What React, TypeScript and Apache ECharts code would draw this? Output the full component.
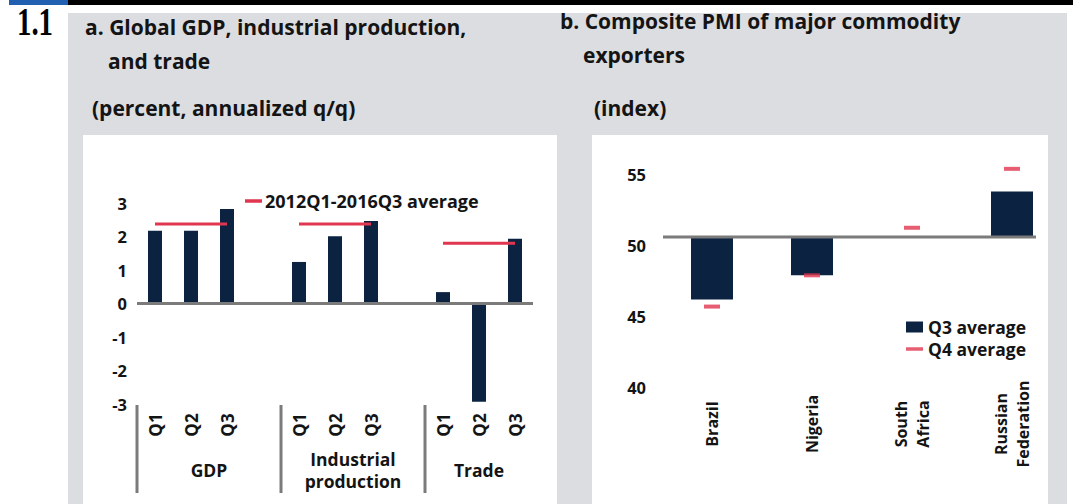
import { useEffect, useRef } from "react";
import * as echarts from "echarts";

// ---------- Panel a data ----------
const quarterCats = ["Q1", "Q2", "Q3", "", "Q1", "Q2", "Q3", "", "Q1", "Q2", "Q3"];
const gdp = [2.17, 2.17, 2.82];
const industrialProduction = [1.24, 2.01, 2.46];
const trade = [0.34, -2.93, 1.93];
const avg2012to2016 = [2.37, 2.37, 1.8]; // GDP, industrial production, trade
const groupNames = ["GDP", "Industrial\nproduction", "Trade"];
const avgName = "2012Q1-2016Q3 average";

// ---------- Panel b data ----------
const countries = ["Brazil", "Nigeria", "South\nAfrica", "Russian\nFederation"];
const q3Average = [45.6, 47.3, 50.0, 53.2];
const q4Average = [45.1, 47.3, 50.65, 54.8];
const pmiBase = 50;

// ---------- styles ----------
const NAVY = "#0b2341";
const RED = "#e1364f";
const GREY_LINE = "#7b7b7b";
const PANEL = "#dcdde0";
const TXT = "#141414";
const FONT = "'Open Sans'";

// layout
const A = { left: 137, top: 203, width: 396, height: 201 };
const B = { left: 662, top: 166, width: 400, height: 213 };
const bMin = -10, bMax = 5;

const barData = [...gdp, null, ...industrialProduction, null, ...trade];
const avgData = [
  ...gdp.map(() => avg2012to2016[0]), null,
  ...industrialProduction.map(() => avg2012to2016[1]), null,
  ...trade.map(() => avg2012to2016[2]),
];
const dashIcon = "path://M0,0H17V3.5H0Z";

const slotW = A.width / quarterCats.length;
const groupStarts = [0, 4, 8];
const groupEnds = [4, 8, 11];
const sepTop = A.top + A.height + 1;
const zeroB = B.top + (bMax / (bMax - bMin)) * B.height;

const titleFont = `bold 21px ${FONT}`;

const graphics: any[] = [
  { type: "rect", z: -10, shape: { x: 9, y: 0, width: 59, height: 5 }, style: { fill: "#2160b0" } },
  { type: "rect", z: -10, shape: { x: 68, y: 0, width: 1005, height: 5 }, style: { fill: "#000" } },
  { type: "rect", z: -10, shape: { x: 68, y: 13, width: 999, height: 491 }, style: { fill: PANEL } },
  { type: "rect", z: -9, shape: { x: 83, y: 135, width: 474, height: 369 }, style: { fill: "#fff" } },
  { type: "rect", z: -9, shape: { x: 592, y: 135, width: 456, height: 369 }, style: { fill: "#fff" } },
  { type: "text", z: 10, x: 17, y: 2, scaleX: 0.72, style: { text: "1.1", fill: "#000", font: "bold 40px 'Liberation Serif'" } },
  { type: "text", z: 10, x: 85, y: 27, style: { text: "a. Global GDP, industrial production,", fill: TXT, font: titleFont, verticalAlign: "middle" } },
  { type: "text", z: 10, x: 108, y: 61, style: { text: "and trade", fill: TXT, font: titleFont, verticalAlign: "middle" } },
  { type: "text", z: 10, x: 92, y: 108, style: { text: "(percent, annualized q/q)", fill: TXT, font: titleFont, verticalAlign: "middle" } },
  { type: "text", z: 10, x: 560, y: 21, style: { text: "b. Composite PMI of major commodity", fill: TXT, font: titleFont, verticalAlign: "middle" } },
  { type: "text", z: 10, x: 583, y: 55, style: { text: "exporters", fill: TXT, font: titleFont, verticalAlign: "middle" } },
  { type: "text", z: 10, x: 594, y: 108, style: { text: "(index)", fill: TXT, font: titleFont, verticalAlign: "middle" } },
  // right panel horizontal axis at 50
  { type: "line", z: 5, shape: { x1: 663, y1: zeroB, x2: 1036, y2: zeroB }, style: { stroke: GREY_LINE, lineWidth: 3 } },
];
groupStarts.forEach((s) => {
  const x = A.left + s * slotW;
  graphics.push({ type: "line", z: 5, shape: { x1: x, y1: sepTop, x2: x, y2: sepTop + 88 }, style: { stroke: GREY_LINE, lineWidth: 3 } });
});
groupNames.forEach((name, i) => {
  const cx = A.left + ((groupStarts[i] + groupEnds[i]) / 2) * slotW;
  graphics.push({
    type: "text", z: 10, x: cx, y: 470,
    style: { text: name, fill: TXT, font: `bold 17.5px ${FONT}`, align: "center", verticalAlign: "middle", lineHeight: 22 },
  });
});

const option: any = {
  animation: false,
  textStyle: { fontFamily: FONT },
  graphic: graphics,
  legend: [
    {
      data: [{ name: avgName, icon: dashIcon }],
      left: 240, top: 187, itemWidth: 17, itemHeight: 12, selectedMode: false,
      textStyle: { fontFamily: FONT, fontWeight: "bold", fontSize: 18, color: TXT, padding: [0, 0, 0, -2] },
    },
    {
      data: [{ name: "Q3 average", icon: "rect" }, { name: "Q4 average", icon: dashIcon }],
      orient: "vertical", left: 901, top: 313, itemWidth: 17, itemHeight: 11, itemGap: 4, selectedMode: false,
      textStyle: { fontFamily: FONT, fontWeight: "bold", fontSize: 17.5, color: TXT },
    },
  ],
  grid: [
    { ...A, containLabel: false },
    { ...B, containLabel: false },
  ],
  xAxis: [
    {
      gridIndex: 0, type: "category", data: quarterCats, position: "bottom",
      axisLine: { show: false, onZero: false }, axisTick: { show: false },
      axisLabel: { rotate: 90, align: "center", verticalAlign: "middle", margin: 21, fontFamily: FONT, fontWeight: "bold", fontSize: 17, color: TXT, interval: 0 },
    },
    {
      gridIndex: 1, type: "category", data: countries, position: "bottom",
      axisLine: { show: false, onZero: false }, axisTick: { show: false },
      axisLabel: { rotate: 90, align: "center", verticalAlign: "middle", margin: 45, fontFamily: FONT, fontWeight: "bold", fontSize: 16, lineHeight: 22, color: TXT, interval: 0 },
    },
  ],
  yAxis: [
    {
      gridIndex: 0, type: "value", min: -3, max: 3, interval: 1,
      axisLine: { show: false }, axisTick: { show: false }, splitLine: { show: false },
      axisLabel: { margin: 10, fontFamily: FONT, fontWeight: "bold", fontSize: 16.5, color: TXT },
    },
    {
      gridIndex: 1, type: "value", min: bMin, max: bMax, interval: 5,
      axisLine: { show: false }, axisTick: { show: false }, splitLine: { show: false },
      axisLabel: { margin: 16, verticalAlign: "top", fontFamily: FONT, fontWeight: "bold", fontSize: 16.5, color: TXT, formatter: (v: number) => String(v + pmiBase) },
    },
  ],
  series: [
    {
      type: "bar", name: "Growth", xAxisIndex: 0, yAxisIndex: 0, data: barData, barWidth: 14,
      itemStyle: { color: NAVY },
      markLine: { silent: true, symbol: "none", label: { show: false }, lineStyle: { color: GREY_LINE, width: 3, type: "solid" }, data: [{ yAxis: 0 }] },
      z: 3,
    },
    {
      type: "line", name: avgName, xAxisIndex: 0, yAxisIndex: 0, data: avgData, connectNulls: false,
      symbol: "none", lineStyle: { color: RED, width: 3 }, itemStyle: { color: RED }, z: 4,
    },
    {
      type: "bar", name: "Q3 average", xAxisIndex: 1, yAxisIndex: 1, data: q3Average.map((v) => v - pmiBase), barWidth: 42,
      itemStyle: { color: NAVY }, z: 3,
    },
    {
      type: "scatter", name: "Q4 average", xAxisIndex: 1, yAxisIndex: 1, data: q4Average.map((v) => v - pmiBase),
      symbol: "rect", symbolSize: [16, 4], itemStyle: { color: RED }, z: 4,
    },
  ],
};

export default function App() {
  const ref = useRef<HTMLDivElement>(null);
  useEffect(() => {
    const chart = echarts.init(ref.current!, null, { renderer: "svg" });
    chart.setOption(option);
    return () => chart.dispose();
  }, []);
  return <div ref={ref} style={{ position: "absolute", left: 0, top: 0, width: 1073, height: 504 }} />;
}
